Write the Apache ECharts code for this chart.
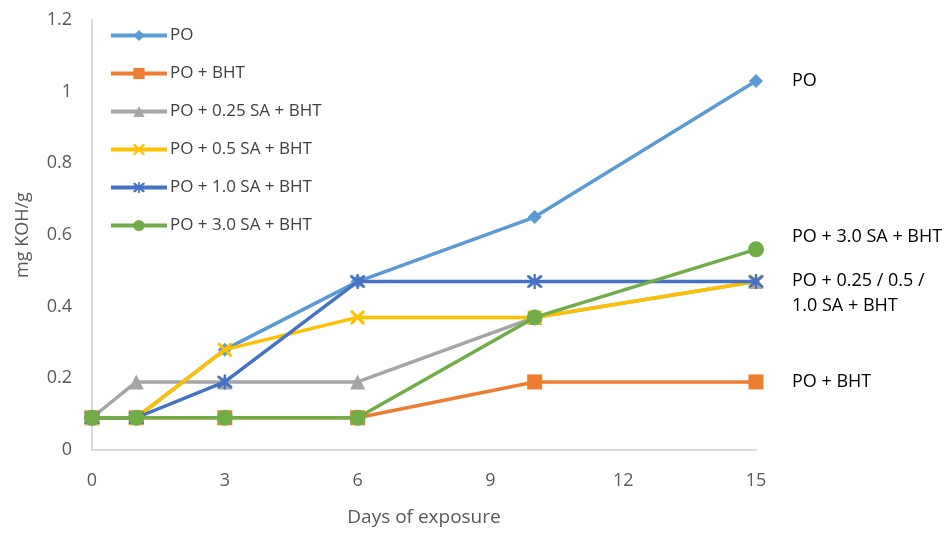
<!DOCTYPE html>
<html><head><meta charset="utf-8">
<script src="https://cdn.jsdelivr.net/npm/echarts@6/dist/echarts.min.js"></script>
<style>html,body{margin:0;padding:0;background:#fff}#c{width:948px;height:534px}</style>
</head><body><div id="c"></div>
<script>
const days = [0, 1, 3, 6, 10, 15];
const seriesNames = ['PO', 'PO + BHT', 'PO + 0.25 SA + BHT', 'PO + 0.5 SA + BHT', 'PO + 1.0 SA + BHT', 'PO + 3.0 SA + BHT'];
const po      = [0.09, 0.09, 0.28, 0.47, 0.65, 1.03];
const poBht   = [0.09, 0.09, 0.09, 0.09, 0.19, 0.19];
const sa025   = [0.09, 0.19, 0.19, 0.19, 0.37, 0.47];
const sa05    = [0.09, 0.09, 0.28, 0.37, 0.37, 0.47];
const sa10    = [0.09, 0.09, 0.19, 0.47, 0.47, 0.47];
const sa30    = [0.09, 0.09, 0.09, 0.09, 0.37, 0.56];
const endLabels = ['PO', 'PO + BHT', '', '', 'PO + 0.25 / 0.5 /\n1.0 SA + BHT', 'PO + 3.0 SA + BHT'];

const colors = ['#5B9BD5', '#ED7D31', '#A5A5A5', '#FFC000', '#4472C4', '#70AD47'];
const xPath = 'path://M0,0 L3,0 L10,7 L17,0 L20,0 L20,3 L13,10 L20,17 L20,20 L17,20 L10,13 L3,20 L0,20 L0,17 L7,10 L0,3 Z';
const starPath = 'path://M0,0 L3,0 L10,7 L17,0 L20,0 L20,3 L13,10 L20,17 L20,20 L17,20 L10,13 L3,20 L0,20 L0,17 L7,10 L0,3 Z M8.5,-2 L11.5,-2 L11.5,22 L8.5,22 Z';
const symbols = ['diamond', 'rect', 'triangle', xPath, starPath, 'circle'];
const sizes = [14, 15, 15, 14, 15, 16];
const labelOffsets = [[0, 0], [0, 0], [0, 0], [0, 0], [0, 12], [0, -12]];
const values = [po, poBht, sa025, sa05, sa10, sa30];
const font = '"Open Sans", "Liberation Sans", sans-serif';

const series = values.map((v, i) => ({
  name: seriesNames[i],
  type: 'line',
  data: days.map((d, j) => [d, v[j]]),
  symbol: symbols[i],
  symbolSize: sizes[i],
  showAllSymbol: true,
  lineStyle: { color: colors[i], width: 3.5 },
  itemStyle: { color: colors[i] },
  z: 2 + i,
  endLabel: {
    show: endLabels[i] !== '',
    formatter: () => endLabels[i],
    distance: 36,
    offset: labelOffsets[i],
    color: '#000',
    fontSize: 18,
    fontFamily: font,
    lineHeight: 25
  },
  emphasis: { disabled: true }
}));

const chart = echarts.init(document.getElementById('c'));
chart.setOption({
  animation: false,
  color: colors,
  grid: { left: 92, right: 192, top: 20, bottom: 84, containLabel: false },
  legend: {
    orient: 'vertical',
    left: 104,
    top: 22,
    itemWidth: 56,
    itemHeight: 14,
    itemGap: 21,
    data: seriesNames,
    lineStyle: { width: 4 },
    textStyle: { color: '#404040', fontSize: 17, fontFamily: font, padding: [0, 0, 0, -2] },
    selectedMode: false
  },
  xAxis: {
    type: 'value',
    min: 0, max: 15, interval: 3,
    name: 'Days of exposure',
    nameLocation: 'middle',
    nameGap: 58,
    nameTextStyle: { color: '#595959', fontSize: 19, fontFamily: font },
    axisLine: { show: true, lineStyle: { color: '#D9D9D9', width: 2 } },
    axisTick: { show: false },
    splitLine: { show: false },
    axisLabel: { color: '#595959', fontSize: 18, fontFamily: font, margin: 22 }
  },
  yAxis: {
    type: 'value',
    min: 0, max: 1.2, interval: 0.2,
    name: 'mg KOH/g',
    nameLocation: 'middle',
    nameRotate: 90,
    nameGap: 60,
    nameTextStyle: { color: '#595959', fontSize: 18, fontFamily: font },
    axisLine: { show: true, lineStyle: { color: '#D9D9D9', width: 2 } },
    axisTick: { show: false },
    splitLine: { show: false },
    axisLabel: { color: '#595959', fontSize: 18, fontFamily: font, margin: 20,
      formatter: v => String(Math.round(v * 10) / 10) }
  },
  series: series
});
</script></body></html>
